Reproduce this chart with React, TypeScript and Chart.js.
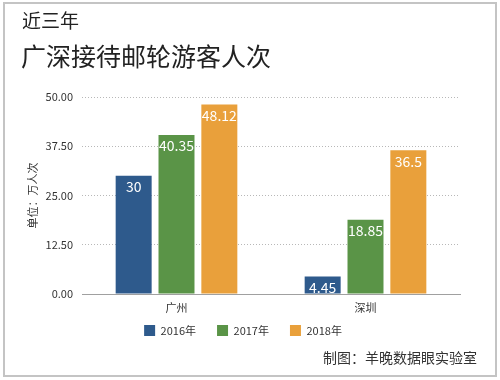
import React, { useEffect, useRef } from "react";
import { Chart, registerables } from "chart.js";

Chart.register(...registerables);

const categories = ["广州", "深圳"];
const seriesNames = ["2016年", "2017年", "2018年"];
const values2016 = [30, 4.45];
const values2017 = [40.35, 18.85];
const values2018 = [48.12, 36.5];
const labels2016 = ["30", "4.45"];
const labels2017 = ["40.35", "18.85"];
const labels2018 = ["48.12", "36.5"];
const yTicks = [0, 12.5, 25, 37.5, 50];

const COLORS = ["#2E5A8C", "#5A9447", "#E9A03B"];
const FONT = "'Noto Sans CJK SC', 'Noto Sans', sans-serif";

const valueLabelPlugin = {
  id: "valueLabels",
  afterLayout(chart: any) {
    // let the x tick labels extend below the compact axis box (they sit beside the legend)
    const x = chart.scales.x;
    if (x) x.bottom = x.top + 26;
  },
  afterDatasetsDraw(chart: any) {
    const ctx = chart.ctx;
    const allLabels = [labels2016, labels2017, labels2018];
    ctx.save();
    ctx.fillStyle = "#ffffff";
    ctx.font = `14px ${FONT}`;
    ctx.textAlign = "center";
    ctx.textBaseline = "middle";
    chart.data.datasets.forEach((ds: any, di: number) => {
      const meta = chart.getDatasetMeta(di);
      meta.data.forEach((bar: any, i: number) => {
        ctx.fillText(allLabels[di][i], bar.x, bar.y + 11);
      });
    });
    ctx.restore();
  },
};

export default function App() {
  const ref = useRef<HTMLCanvasElement>(null);
  useEffect(() => {
    if (!ref.current) return;
    const chart = new Chart(ref.current, {
      type: "bar",
      data: {
        labels: categories,
        datasets: [
          { label: seriesNames[0], data: values2016, backgroundColor: COLORS[0] },
          { label: seriesNames[1], data: values2017, backgroundColor: COLORS[1] },
          { label: seriesNames[2], data: values2018, backgroundColor: COLORS[2] },
        ],
      },
      options: {
        animation: false,
        responsive: false,
        maintainAspectRatio: false,
        layout: { padding: { top: 97, left: 26, right: 40, bottom: 34 } },
        datasets: {
          bar: { categoryPercentage: 0.68, barPercentage: 0.84 },
        },
        plugins: {
          legend: {
            position: "bottom",
            labels: {
              boxWidth: 11,
              boxHeight: 11,
              padding: 21,
              color: "#333",
              font: { family: FONT, size: 11 },
            },
          },
          tooltip: { enabled: false },
        },
        scales: {
          x: {
            afterFit: (scale: any) => {
              scale.height = 10;
            },
            grid: { display: false, drawTicks: false },
            border: { display: true, color: "#a0a0a0", width: 1 },
            ticks: { color: "#333", font: { family: FONT, size: 11 }, padding: 7 },
          },
          y: {
            min: 0,
            max: 50,
            afterBuildTicks: (axis: any) => {
              axis.ticks = yTicks.map((v) => ({ value: v }));
            },
            afterFit: (scale: any) => {
              scale.width = 56;
            },
            grid: {
              color: "#b8b8b8",
              drawTicks: false,
            },
            border: { display: false, dash: [1, 2] },
            ticks: {
              color: "#333",
              font: { family: FONT, size: 11 },
              padding: 9,
              callback: (v: any) => Number(v).toFixed(2),
            },
            title: {
              display: true,
              text: "单位：万人次",
              color: "#333",
              font: { family: FONT, size: 11 },
              padding: { top: 0, bottom: 0 },
            },
          },
        },
      },
      plugins: [valueLabelPlugin],
    });
    return () => chart.destroy();
  }, []);

  return (
    <div
      style={{
        position: "fixed",
        left: 0,
        top: 0,
        width: 500,
        height: 380,
        background: "#fff",
        fontFamily: FONT,
      }}
    >
      <canvas ref={ref} width={500} height={380} style={{ position: "absolute", left: 0, top: 0 }} />
      <div
        style={{
          position: "absolute",
          left: 3,
          top: 2,
          width: 490,
          height: 371,
          border: "2px solid #c4c4c4",
          pointerEvents: "none",
        }}
      />
      <div style={{ position: "absolute", left: 22, top: 7, fontSize: 19, color: "#222", lineHeight: "26px" }}>
        近三年
      </div>
      <div style={{ position: "absolute", left: 21, top: 37, fontSize: 25, color: "#222", lineHeight: "36px" }}>
        广深接待邮轮游客人次
      </div>
      <div style={{ position: "absolute", right: 23, top: 346, fontSize: 14, color: "#333", lineHeight: "22px" }}>
        制图：羊晚数据眼实验室
      </div>
    </div>
  );
}
